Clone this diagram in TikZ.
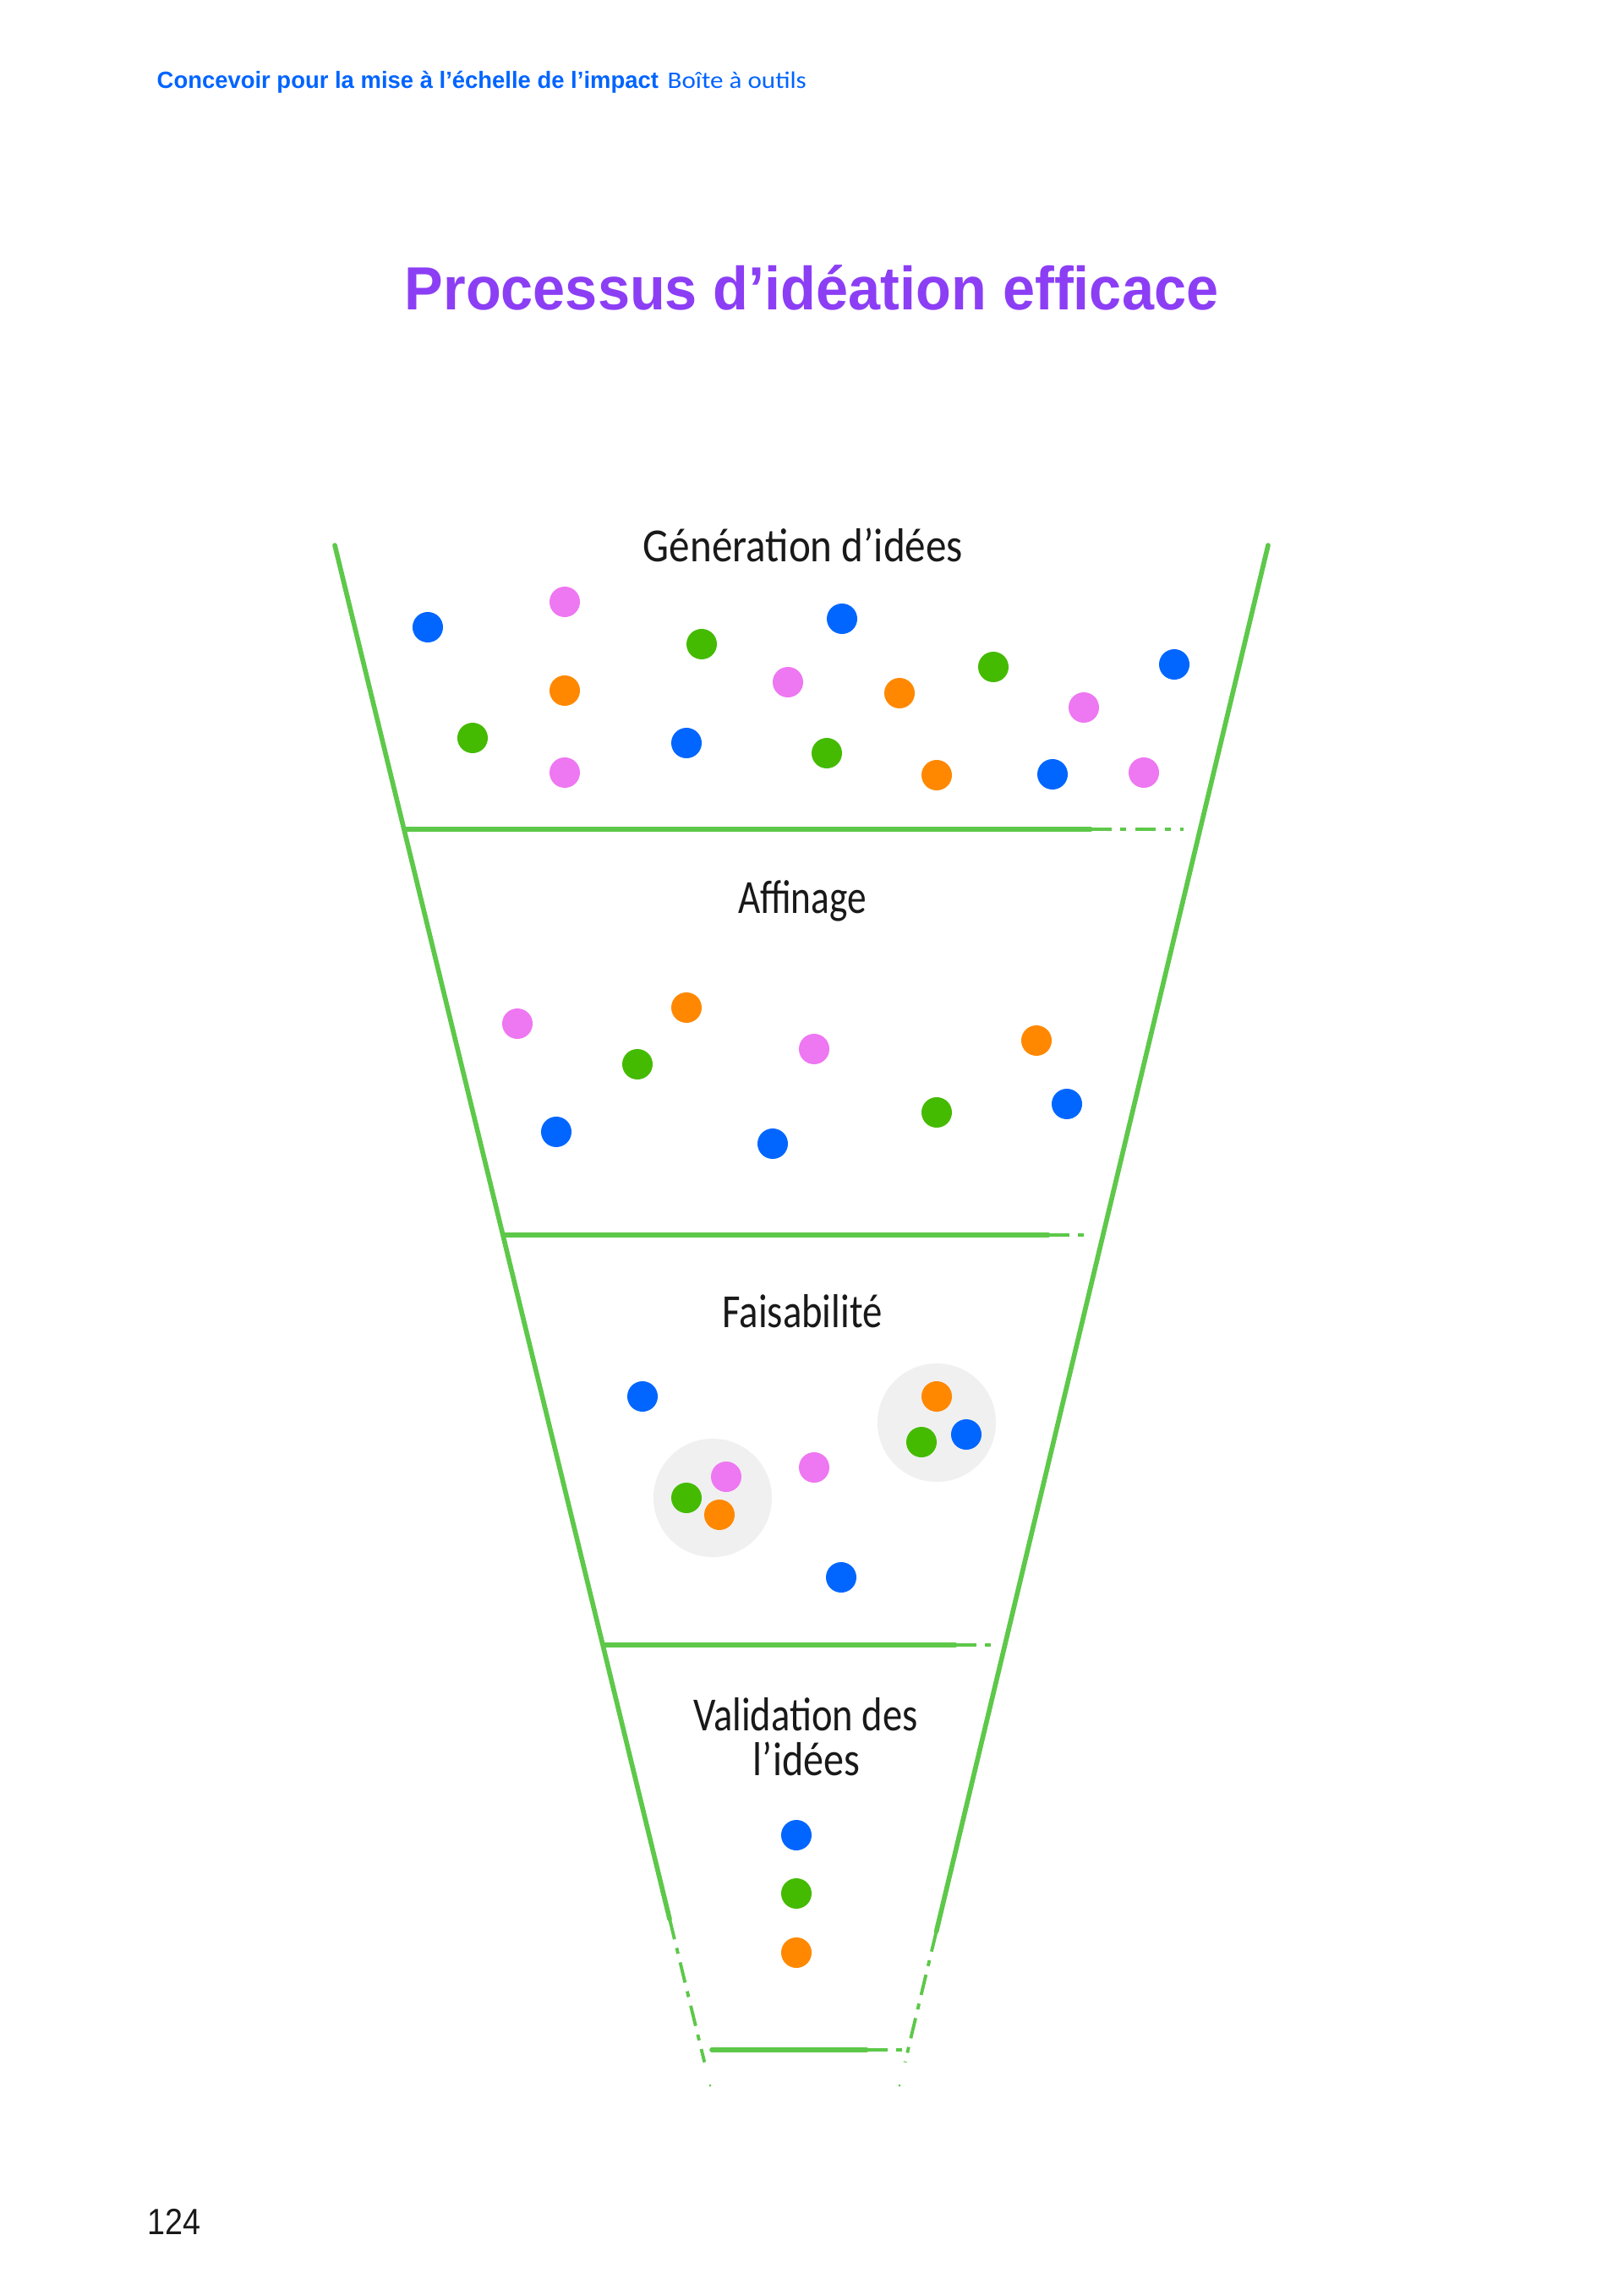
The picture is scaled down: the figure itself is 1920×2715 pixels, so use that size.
\documentclass[tikz,border=0pt]{standalone}
\usepackage{graphicx}
\usepackage{fontspec}
\setmainfont{Liberation Sans}
\newfontfamily\handfont{Carlito}
\usetikzlibrary{calc}
\definecolor{dotblue}{HTML}{0066FF}
\definecolor{dotpink}{HTML}{EE77F2}
\definecolor{dotgreen}{HTML}{44BB00}
\definecolor{dotorange}{HTML}{FF8800}
\definecolor{linegreen}{HTML}{5DC849}
\definecolor{clustergray}{HTML}{F0F0F0}
\definecolor{titlepurple}{HTML}{8C3EF5}
\definecolor{headblue}{HTML}{0064FF}
\newlength\fitlen
\newcommand\fitto[2]{\settowidth\fitlen{#2}\pgfmathsetmacro\fitsx{#1/\fitlen}\scalebox{\fitsx}[1]{#2}}
\tikzset{
  dot/.style={circle, inner sep=0pt, minimum size=0.36cm, draw=none},
  bd/.style={dot, fill=dotblue},
  pd/.style={dot, fill=dotpink},
  gd/.style={dot, fill=dotgreen},
  od/.style={dot, fill=dotorange},
  cluster/.style={circle, inner sep=0pt, minimum size=1.4cm, fill=clustergray, draw=none},
  fline/.style={draw=linegreen, line width=1.6pt, line cap=round},
  fdash/.style={draw=linegreen, line width=1.1pt, dash pattern=on 7pt off 3pt on 2pt off 3pt},
  lbl/.style={anchor=base, inner sep=0pt, text=black!90},
}
\newcommand\handtext[2]{\fitto{#1}{\handfont\fontsize{16pt}{19pt}\selectfont #2}}
\begin{document}
\begin{tikzpicture}[x=0.01cm, y=-0.01cm]
\useasboundingbox[fill=white] (0,0) rectangle (1920,2715);

% header
\node[anchor=base west, inner sep=0pt, text=headblue] (hdr) at (185,105)
  {\fitto{168.7pt}{\fontsize{7.9pt}{9pt}\selectfont\bfseries Concevoir pour la mise à l’échelle de l’impact}};
\node[anchor=base west, inner sep=0pt, text=headblue] (tool) at (789,105)
  {\fitto{46.7pt}{\handfont\fontsize{8pt}{9pt}\selectfont Boîte à outils}};

% title
\node[anchor=base, inner sep=0pt, text=titlepurple] (title) at (960,366)
  {\fitto{273.7pt}{\fontsize{20.5pt}{23pt}\selectfont\bfseries Processus d’idéation efficace}};

% page number
\node[anchor=base west, inner sep=0pt, text=black!90] (page) at (174,2643)
  {\fitto{17.9pt}{\fontsize{12.3pt}{14pt}\selectfont 124}};

% funnel sides
\coordinate (LT) at (396,645);
\coordinate (LB) at (840,2467);
\coordinate (RT) at (1500,645);
\coordinate (RB) at (1064,2467);
\coordinate (LS) at ($(LT)!0.892!(LB)$);
\coordinate (LE) at ($(LT)!0.985!(LB)$);
\coordinate (RS) at ($(RT)!0.900!(RB)$);
\coordinate (RE) at ($(RT)!0.985!(RB)$);
\draw[fline] (LT) -- (LS);
\draw[fdash] (LS) -- (LE);
\draw[fline] (RT) -- (RS);
\draw[fdash] (RS) -- (RE);
\fill[linegreen] (LB) circle (1.5);
\fill[linegreen] (RB) circle (1.5);

% horizontal separators
\coordinate (h1a) at (479,981);  \coordinate (h1m) at (1290,981); \coordinate (h1b) at (1400,981);
\coordinate (h2a) at (597,1461); \coordinate (h2m) at (1240,1461); \coordinate (h2b) at (1290,1461);
\coordinate (h3a) at (714,1946); \coordinate (h3m) at (1130,1946); \coordinate (h3b) at (1175,1946);
\coordinate (h4a) at (842,2425); \coordinate (h4m) at (1025,2425); \coordinate (h4b) at (1069,2425);
\draw[fline] (h1a) -- (h1m); \draw[fdash] (h1m) -- (h1b);
\draw[fline] (h2a) -- (h2m); \draw[fdash] (h2m) -- (h2b);
\draw[fline] (h3a) -- (h3m); \draw[fdash] (h3m) -- (h3b);
\draw[fline] (h4a) -- (h4m); \draw[fdash] (h4m) -- (h4b);

% labels
\node[lbl] (l1) at (950,664) {\handtext{107.5pt}{Génération d’idées}};
\node[lbl] (l2) at (949,1080) {\handtext{43.2pt}{Affinage}};
\node[lbl] (l3) at (949,1570) {\handtext{53.8pt}{Faisabilité}};
\node[lbl] (l4a) at (953,2047) {\handtext{75.4pt}{Validation des}};
\node[lbl] (l4b) at (954,2100) {\handtext{35.9pt}{l’idées}};

% section 1 dots
\node[bd] (s1a) at (506,742) {};
\node[pd] (s1b) at (668,712) {};
\node[gd] (s1c) at (830,762) {};
\node[bd] (s1d) at (996,732) {};
\node[od] (s1e) at (668,817) {};
\node[pd] (s1f) at (932,807) {};
\node[od] (s1g) at (1064,820) {};
\node[gd] (s1h) at (1175,789) {};
\node[bd] (s1i) at (1389,786) {};
\node[pd] (s1j) at (1282,837) {};
\node[gd] (s1k) at (559,873) {};
\node[bd] (s1l) at (812,879) {};
\node[gd] (s1m) at (978,891) {};
\node[pd] (s1n) at (668,914) {};
\node[od] (s1o) at (1108,917) {};
\node[bd] (s1p) at (1245,916) {};
\node[pd] (s1q) at (1353,914) {};

% section 2 dots
\node[pd] (s2a) at (612,1211) {};
\node[od] (s2b) at (812,1192) {};
\node[gd] (s2c) at (754,1259) {};
\node[bd] (s2d) at (658,1339) {};
\node[pd] (s2e) at (963,1241) {};
\node[bd] (s2f) at (914,1353) {};
\node[gd] (s2g) at (1108,1316) {};
\node[od] (s2h) at (1226,1231) {};
\node[bd] (s2i) at (1262,1306) {};

% section 3
\node[cluster] (c1) at (843,1772) {};
\node[cluster] (c2) at (1108,1683) {};
\node[bd] (s3a) at (760,1652) {};
\node[pd] (s3b) at (859,1747) {};
\node[gd] (s3c) at (812,1772) {};
\node[od] (s3d) at (851,1792) {};
\node[pd] (s3e) at (963,1736) {};
\node[od] (s3f) at (1108,1652) {};
\node[gd] (s3g) at (1090,1706) {};
\node[bd] (s3h) at (1143,1697) {};
\node[bd] (s3i) at (995,1866) {};

% section 4
\node[bd] (s4a) at (942,2171) {};
\node[gd] (s4b) at (942,2240) {};
\node[od] (s4c) at (942,2310) {};
\end{tikzpicture}
\end{document}
